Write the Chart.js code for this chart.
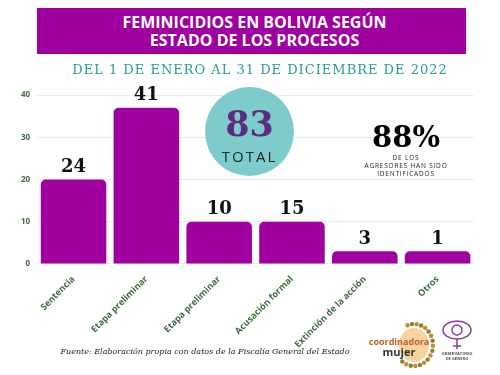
<!DOCTYPE html>
<html>
<head>
<meta charset="utf-8">
<script src="https://cdn.jsdelivr.net/npm/chart.js@4"></script>
<style>
	body {margin: 0; background: #fff;}
	#wrap {position: relative; width: 500px; height: 375px; overflow: hidden;}
	#wrap canvas {position: absolute; left: 0; top: 0;}
	.abs {position: absolute; text-align: center;}
	#banner {left: 37px; top: 8px; width: 429px; height: 46px; background: #a0009f; color: #fff;
		font-family: "Open Sans", sans-serif; font-weight: 700; font-size: 16px; line-height: 18px;
		padding-top: 5px; padding-left: 6px; box-sizing: border-box;}
	#sub {left: 10px; top: 62px; width: 500px; color: #2a9d96; font-family: "DejaVu Serif", serif;
		font-size: 13px; letter-spacing: 1px;}
	#circle {left: 205px; top: 87px; width: 89px; height: 89px; border-radius: 50%; background: #7ecbcb;}
	#total {left: 205px; top: 105px; width: 89px; color: #5c2d7e; font-family: "DejaVu Serif", serif; font-weight: 700; font-size: 35px; line-height: 38px;}
	#totalTxt {left: 205px; top: 146px; width: 89px; color: #222; font-family: "Open Sans", sans-serif; font-size: 15px; letter-spacing: 2px;}
	#pct {left: 336px; top: 121px; width: 140px; color: #000; font-family: "DejaVu Serif", serif; font-weight: 700; font-size: 29px; line-height: 32px;}
	#pctTxt {left: 336px; top: 154px; width: 140px; color: #222; font-family: "Open Sans", sans-serif; font-size: 6.5px; line-height: 8px; letter-spacing: 0.8px;}
	#src {left: 0; top: 347px; width: 410px; color: #222; font-family: "DejaVu Serif", serif; font-style: italic; font-size: 8px;}
</style>
</head>
<body>
<div id="wrap">
	<canvas id="myChart" width="500" height="375"></canvas>
	<div class="abs" id="banner">FEMINICIDIOS EN BOLIVIA SEGÚN<br>ESTADO DE LOS PROCESOS</div>
	<div class="abs" id="sub">DEL 1 DE ENERO AL 31 DE DICIEMBRE DE 2022</div>
	<div class="abs" id="circle"></div>
	<div class="abs" id="total">83</div>
	<div class="abs" id="totalTxt">TOTAL</div>
	<div class="abs" id="pct">88%</div>
	<div class="abs" id="pctTxt">DE LOS<br>AGRESORES HAN SIDO<br>IDENTIFICADOS</div>
	<div class="abs" id="src">Fuente: Elaboración propia con datos de la Fiscalía General del Estado</div>
	<canvas id="logos" width="500" height="375"></canvas>
</div>
<script>
// categories, bar heights as drawn in the picture, and the numbers printed over them
var categories = ['Sentencia', 'Etapa preliminar', 'Etapa preliminar', 'Acusación formal', 'Extinción de la acción', 'Otros'];
var barHeights = [20, 37, 10, 10, 3, 3];
var barLabels = ['24', '41', '10', '15', '3', '1'];
var yTicks = [0, 10, 20, 30, 40];

var purple = '#a0009f';
var green = '#3f6b3f';

// numbers over bars
var valueLabels = {
	id: 'valueLabels',
	afterDatasetsDraw: function(chart) {
		var ctx = chart.ctx;
		var meta = chart.getDatasetMeta(0);
		ctx.save();
		ctx.fillStyle = '#111';
		ctx.font = 'bold 18px "DejaVu Serif", serif';
		ctx.textAlign = 'center';
		ctx.textBaseline = 'bottom';
		meta.data.forEach(function(bar, i) {
			ctx.fillText(barLabels[i], bar.x, bar.y - 3);
		});
		ctx.restore();
	}
};

new Chart('myChart', {
	type: 'bar',
	data: {
		labels: categories,
		datasets: [{
			data: barHeights,
			backgroundColor: purple,
			borderRadius: {topLeft: 5, topRight: 5},
			borderSkipped: 'bottom',
			barPercentage: 0.9,
			categoryPercentage: 1
		}]
	},
	options: {
		responsive: false,
		animation: false,
		layout: {padding: {left: 14, right: 26, top: 95, bottom: 23}},
		plugins: {
			legend: {display: false},
			tooltip: {enabled: false}
		},
		scales: {
			x: {
				grid: {display: false},
				border: {display: false},
				ticks: {
					color: green,
					font: {family: '"Open Sans", sans-serif', weight: 'bold', size: 9},
					minRotation: 45,
					maxRotation: 45,
					padding: 2
				}
			},
			y: {
				min: 0,
				max: 40,
				afterBuildTicks: function(axis) {
					axis.ticks = yTicks.map(function(v) { return {value: v}; });
				},
				grid: {color: '#ececec', drawTicks: false},
				border: {display: false},
				ticks: {
					color: green,
					font: {family: '"Open Sans", sans-serif', weight: 'bold', size: 8},
					padding: 7
				}
			}
		}
	},
	plugins: [valueLabels]
});

// rough logos at the bottom right
var lc = document.getElementById('logos').getContext('2d');
lc.save();
lc.fillStyle = '#f6d3a0';
lc.beginPath();
lc.ellipse(414, 345, 15, 17, 0, 0, Math.PI * 2);
lc.fill();
for (var a = 0; a < 18; a++) {
	var ang = (-110 + a * 14) * Math.PI / 180;
	lc.fillStyle = a % 2 ? '#7a8b2a' : '#d9822b';
	lc.beginPath();
	lc.arc(414 + Math.cos(ang) * 19, 345 + Math.sin(ang) * 21, 2.2, 0, Math.PI * 2);
	lc.fill();
}
lc.font = 'bold 9px "Open Sans", sans-serif';
lc.textAlign = 'center';
lc.fillStyle = '#c0602a';
lc.fillText('coordinadora', 399, 345);
lc.font = 'bold 11px "Open Sans", sans-serif';
lc.fillStyle = '#333';
lc.fillText('mujer', 399, 356);
lc.strokeStyle = '#8a3e9a';
lc.lineWidth = 1.5;
lc.beginPath();
lc.ellipse(457, 330, 14, 9, 0, 0, Math.PI * 2);
lc.stroke();
lc.beginPath();
lc.arc(457, 330, 5, 0, Math.PI * 2);
lc.stroke();
lc.beginPath();
lc.moveTo(457, 339); lc.lineTo(457, 349);
lc.moveTo(453, 346); lc.lineTo(461, 346);
lc.stroke();
lc.font = 'bold 4px "Open Sans", sans-serif';
lc.fillStyle = '#555';
lc.fillText('OBSERVATORIO', 457, 355);
lc.fillText('DE GÉNERO', 457, 360);
lc.restore();
</script>
</body>
</html>
